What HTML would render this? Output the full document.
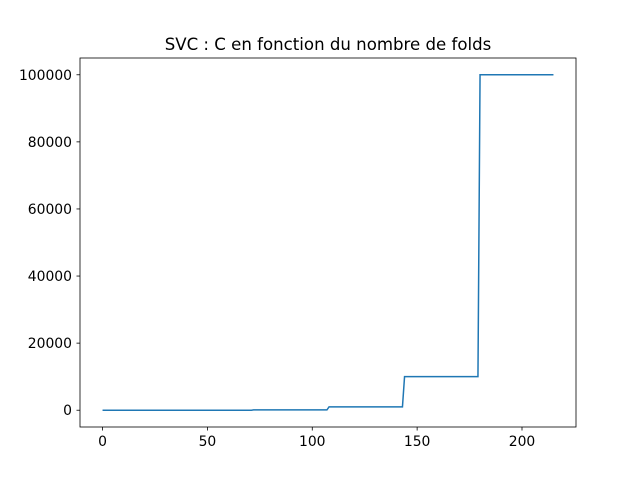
<!DOCTYPE html>
<html><head><meta charset="utf-8"><style>
body{margin:0;background:#fff;width:640px;height:480px;overflow:hidden}
text{font-family:"DejaVu Sans","Liberation Sans",sans-serif;}
</style></head><body>
<svg id="chart" width="640" height="480">
<rect width="640" height="480" fill="#fff"/>
<text x="328" y="50" text-anchor="middle" font-size="16.6">SVC : C en fonction du nombre de folds</text>
<g id="plot"></g>
</svg>
<script>
const stepX=[0,35,36,71,72,107,108,143,144,179,180,215];
const stepY=[0.1,0.1,1,1,100,100,1000,1000,10000,10000,100000,100000];
const xTicks=[0,50,100,150,200];
const yTicks=[0,20000,40000,60000,80000,100000];
const L=80,R=576,T=58,B=427;
const xmin=-10.75,xmax=225.75,ymin=-5000,ymax=105000;
const sx=v=>L+(v-xmin)/(xmax-xmin)*(R-L);
const sy=v=>B-(v-ymin)/(ymax-ymin)*(B-T);
const g=document.getElementById('plot');
const NS='http://www.w3.org/2000/svg';
function mk(t,a){const e=document.createElementNS(NS,t);for(const k in a)e.setAttribute(k,a[k]);g.appendChild(e);return e;}
const line=mk('polyline',{points:stepX.map((x,i)=>sx(x)+','+sy(stepY[i])).join(' '),fill:'none',stroke:'#1f77b4','stroke-width':1.5});


xTicks.forEach(t=>{const x=sx(t);
const tk=mk('line',{x1:x,x2:x,y1:B,y2:B+3.5,stroke:'#000','stroke-width':0.8});


const lb=mk('text',{x:x,y:B+19,'text-anchor':'middle','font-size':13.9});lb.textContent=t;

});
yTicks.forEach(t=>{const y=sy(t);
const tk=mk('line',{x1:L-3.5,x2:L,y1:y,y2:y,stroke:'#000','stroke-width':0.8});


const lb=mk('text',{x:L-8,y:y+5,'text-anchor':'end','font-size':13.9});lb.textContent=t;

});
const fr=mk('rect',{x:L,y:T,width:R-L,height:B-T,fill:'none',stroke:'#000','stroke-width':0.8});


</script>
</body></html>
